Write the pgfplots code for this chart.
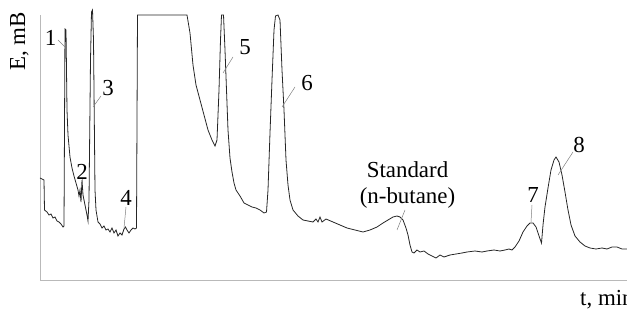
\documentclass[border=0pt]{standalone}
\usepackage{fontspec}
\setmainfont{Liberation Serif}
\usepackage{pgfplots}
\pgfplotsset{compat=1.18}
\newcommand{\lf}{\fontsize{23}{27}\selectfont}
\begin{document}
\begin{tikzpicture}
\useasboundingbox (0,0) rectangle (627bp,311bp);
\begin{axis}[
  at={(40bp,31bp)}, anchor=south west,
  scale only axis, width=587bp, height=265bp,
  xmin=40, xmax=627, ymin=0, ymax=265,
  axis lines=left, axis line style={-, gray!55, line width=0.8bp},
  xtick=\empty, ytick=\empty, clip=false,
]
\addplot[black!85, line width=0.8bp] coordinates {
(40,102)(44,100)(44.5,70)(47,68)(49,65)(51,66)(53,62)(55,63)(57,59)(59,58)(61,56)(63,53)(64,54)
(65,251)(66,250)(67,170)(68,145)(70,123)(72,112)(74,104)(76,97)(78,90)(79,84)(80,90)(81,78)(82,100)(83,85)(85,75)(87,65)(88,59)(89,80)
(90.5,220)(91.5,268)(92.5,270)(93.5,240)(95,90)(96,70)(98,58)(100,56)(102,52)(104,54)(106,50)(108,51)(110,48)(112,52)(114,47)(116,50)(118,44)(120,47)(122,45)(124,51)(125.5,53)(127,50)(129,47)(131,50)(133,52)(135,51)(136.5,52)
(137.5,265)(187,265)(190,247)(193,215)(196,195)(200,180)(204,165)(208,150)(212,140)(215,134)(217,140)(219,190)(220.5,240)(221.5,265)(223.5,265)(225,230)(226.5,190)(228,150)(230,122)(232,108)(234,97)(236,90)(240,84)(244,77)(248,75)(252,73)(256,72)(260,70)(264,67)(266.5,68)
(268,90)(270,147)(272,200)(274,250)(275.5,264)(278,265)(280,260)(282,210)(284,170)(286,120)(288,95)(290,80)(293,70)(298,64)(303,60)(308,59)(313,58)(316,61)(318,58)(320,63)(322,58)(326,61)(333,58)(340,55)(347,52)(355,50)(363,48)(370,50)(377,53)(383,57)(388,60)(393,63)(397,64)(400,63)(403,60)(406,52)(408,45)(410,35)(412,28)(414,27)(417,30)(420,28)(424,29)(428,26)(432,24)(436,22)(440,25)(444,23)(450,25)(456,26)(462,27)(467,28)(475,29)(482,28)(487,29)(494,30)(500,29)(505,30)(509,31)(512,30)(515,33)(519,39)(523,48)(527,54)(530,57)(533,57)(536,53)(539,44)(541.5,37)(543,55)(545,73)(548,92)(551,110)(554,120)(556,123)(559,118)(562,105)(565,88)(568,70)(571,55)(575,44)(580,38)(585,34)(590,32)(596,31)(602,32)(607,31)(612,33)(617,33)(622,31)(627,31)
};
\draw[gray, line width=0.5bp] (axis cs:58,240)--(axis cs:65,233);
\draw[gray, line width=0.5bp] (axis cs:82.5,102)--(axis cs:81.7,93);
\draw[gray, line width=0.5bp] (axis cs:101,184)--(axis cs:93,173);
\draw[gray, line width=0.5bp] (axis cs:126,73)--(axis cs:124,52);
\draw[gray, line width=0.5bp] (axis cs:233,223)--(axis cs:223,207);
\draw[gray, line width=0.5bp] (axis cs:295,193)--(axis cs:282,173);
\draw[gray, line width=0.5bp] (axis cs:405,70)--(axis cs:397,50);
\draw[gray, line width=0.5bp] (axis cs:532,75)--(axis cs:531,58);
\draw[gray, line width=0.5bp] (axis cs:573,128)--(axis cs:558,105);
\node[font=\lf, inner sep=0pt] at (axis cs:50.5,242.5) {1};
\node[font=\lf, inner sep=0pt] at (axis cs:82,108) {2};
\node[font=\lf, inner sep=0pt] at (axis cs:108,192) {3};
\node[font=\lf, inner sep=0pt] at (axis cs:126,82) {4};
\node[font=\lf, inner sep=0pt] at (axis cs:245,233) {5};
\node[font=\lf, inner sep=0pt] at (axis cs:307,197) {6};
\node[font=\lf, align=center, inner sep=0pt] at (axis cs:407.5,95) {Standard\\(n-butane)};
\node[font=\lf, inner sep=0pt] at (axis cs:533,85) {7};
\node[font=\lf, inner sep=0pt] at (axis cs:579,135) {8};
\node[font=\lf, rotate=90, inner sep=0pt] at (axis cs:19.5,238.5) {E, mB};
\node[font=\lf, anchor=base west, inner sep=0pt] at (axis cs:580,-25) {t, min};
\end{axis}
\end{tikzpicture}
\end{document}
